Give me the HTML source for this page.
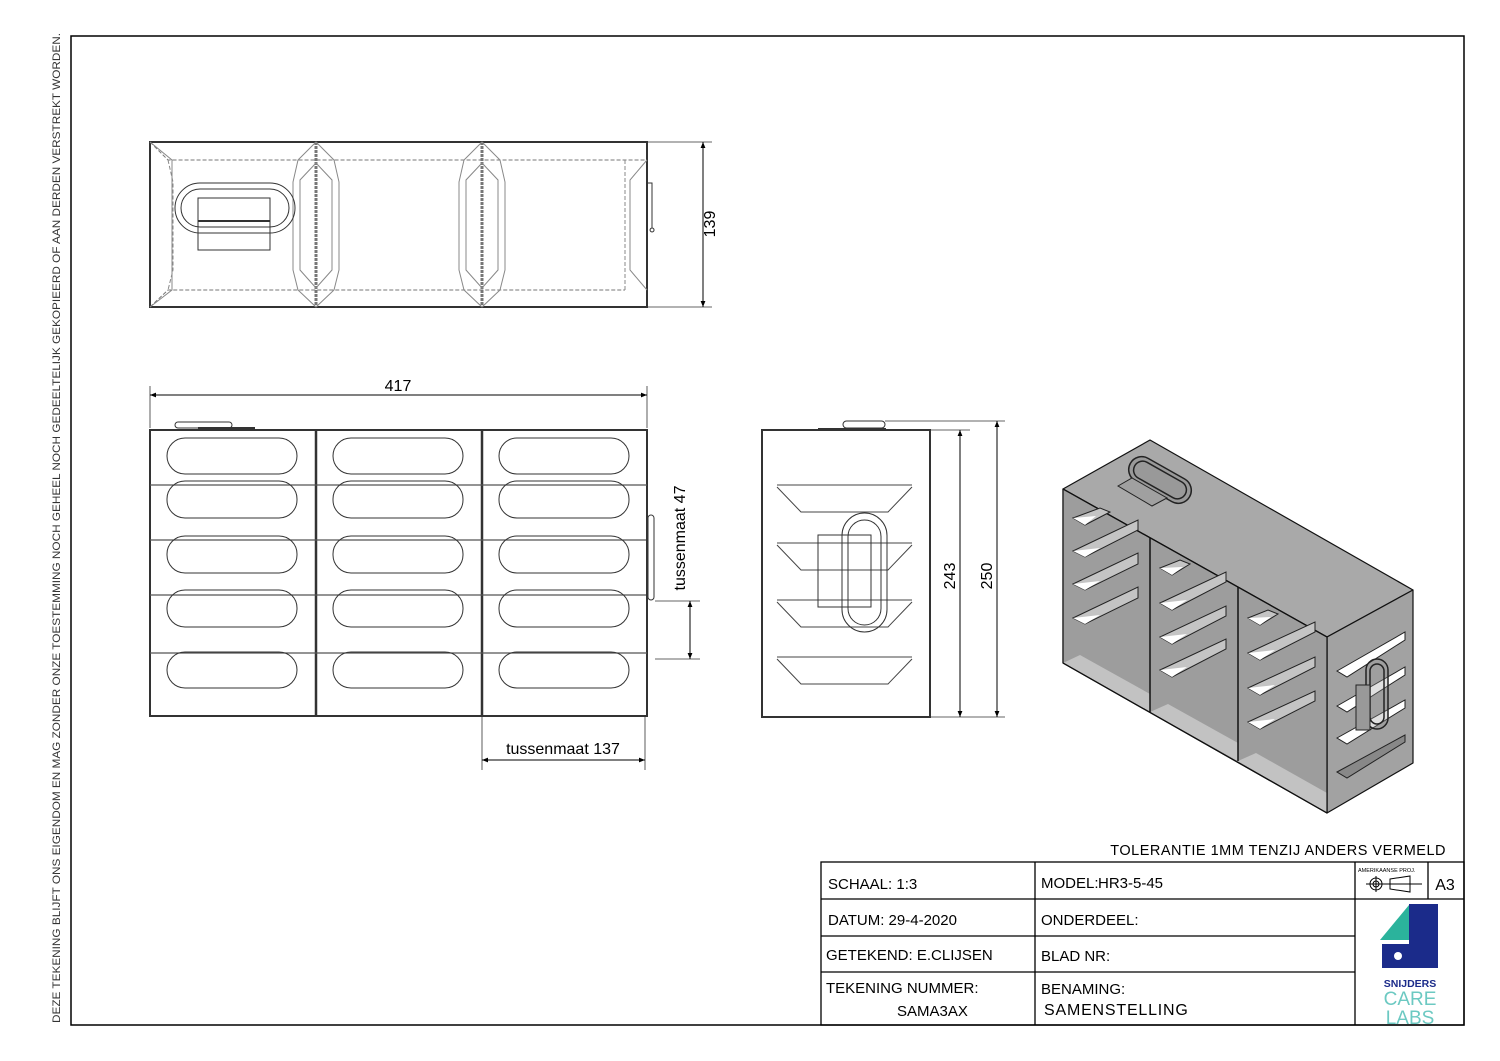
<!DOCTYPE html>
<html><head><meta charset="utf-8"><style>
html,body{margin:0;padding:0;background:#fff;}
svg{display:block;font-family:"Liberation Sans",sans-serif;}
</style></head><body>
<svg width="1500" height="1061" viewBox="0 0 1500 1061" xmlns="http://www.w3.org/2000/svg">
<defs>
<marker id="ar" viewBox="0 0 10 10" refX="10" refY="5" markerWidth="10" markerHeight="6" orient="auto-start-reverse" markerUnits="userSpaceOnUse"><path d="M0,1 L10,5 L0,9 z" fill="#000"/></marker>
</defs>
<rect x="0" y="0" width="1500" height="1061" fill="#fff"/>
<rect x="71" y="36" width="1393" height="989" fill="none" stroke="#000" stroke-width="1.5"/>
<text transform="translate(60,528) rotate(-90)" text-anchor="middle" font-size="11" fill="#333" textLength="990" lengthAdjust="spacingAndGlyphs">DEZE TEKENING BLIJFT ONS EIGENDOM EN MAG ZONDER ONZE TOESTEMMING NOCH GEHEEL NOCH GEDEELTELIJK GEKOPIEERD OF AAN DERDEN VERSTREKT WORDEN.</text>

<!-- TOP VIEW -->
<g stroke="#333" fill="none" stroke-width="1">
<rect x="150" y="142" width="497" height="165" stroke-width="2"/>
<line x1="316" y1="142" x2="316" y2="307" stroke="#777" stroke-width="3" stroke-dasharray="3,1"/>
<line x1="482" y1="142" x2="482" y2="307" stroke="#777" stroke-width="3" stroke-dasharray="3,1"/>
<path d="M150,142 L168,160 L647,160 M150,307 L168,290 L625,290" stroke-dasharray="4,2" stroke="#777"/>
<path d="M150,142 L172,160 L172,290 L150,307" stroke="#888"/>
<path d="M168,160 L173,182 L173,270 L168,290" stroke="#888" stroke-dasharray="4,2"/>
<path d="M316,142 L298,160 L293,182 L293,270 L298,290 L316,307 L334,290 L339,270 L339,182 L334,160 Z" stroke="#888"/>
<path d="M316,163 L300,180 L300,270 L316,288 L332,270 L332,180 Z" stroke="#888"/>
<path d="M482,142 L464,160 L459,182 L459,270 L464,290 L482,307 L500,290 L505,270 L505,182 L500,160 Z" stroke="#888"/>
<path d="M482,163 L466,180 L466,270 L482,288 L498,270 L498,180 Z" stroke="#888"/>
<path d="M647,160 L630,180 L630,270 L647,290" stroke="#888"/>
<path d="M625,160 L625,290" stroke="#888" stroke-dasharray="4,2"/>
<rect x="175" y="183" width="120" height="50" rx="25"/>
<rect x="181" y="189" width="108" height="38" rx="19"/>
<rect x="198" y="198" width="72" height="52" fill="none"/>
<line x1="198" y1="221" x2="270" y2="221" stroke-width="2"/>
<path d="M647,183 L652,183 L652,228 M652,228 a2,2 0 1 0 0.1,0"/>
<line x1="647" y1="142" x2="712" y2="142" stroke-width="0.8"/>
<line x1="647" y1="307" x2="712" y2="307" stroke-width="0.8"/>
<line x1="703" y1="142" x2="703" y2="307" marker-start="url(#ar)" marker-end="url(#ar)" stroke="#000"/>
</g>
<text transform="translate(715,224) rotate(-90)" text-anchor="middle" font-size="16">139</text>

<!-- FRONT VIEW -->
<g stroke="#333" fill="none" stroke-width="1">
<rect x="150" y="430" width="497" height="286" stroke-width="2"/>
<line x1="316" y1="430" x2="316" y2="716" stroke-width="2.5"/>
<line x1="482" y1="430" x2="482" y2="716" stroke-width="2.5"/>
<g stroke="#555" stroke-width="1.2">
<line x1="150" y1="485" x2="647" y2="485"/>
<line x1="150" y1="540" x2="647" y2="540"/>
<line x1="150" y1="595" x2="647" y2="595"/>
<line x1="150" y1="653" x2="647" y2="653"/>
</g>
<g>
<rect x="167" y="438" width="130" height="36" rx="18"/><rect x="333" y="438" width="130" height="36" rx="18"/><rect x="499" y="438" width="130" height="36" rx="18"/>
<rect x="167" y="481" width="130" height="37" rx="18"/><rect x="333" y="481" width="130" height="37" rx="18"/><rect x="499" y="481" width="130" height="37" rx="18"/>
<rect x="167" y="536" width="130" height="37" rx="18"/><rect x="333" y="536" width="130" height="37" rx="18"/><rect x="499" y="536" width="130" height="37" rx="18"/>
<rect x="167" y="590" width="130" height="37" rx="18"/><rect x="333" y="590" width="130" height="37" rx="18"/><rect x="499" y="590" width="130" height="37" rx="18"/>
<rect x="167" y="652" width="130" height="36" rx="18"/><rect x="333" y="652" width="130" height="36" rx="18"/><rect x="499" y="652" width="130" height="36" rx="18"/>
</g>
<rect x="175" y="422" width="57" height="6" rx="3"/>
<line x1="198" y1="428" x2="255" y2="428" stroke-width="2"/>
<rect x="648" y="515" width="6" height="85" rx="3"/>
<line x1="647" y1="535" x2="647" y2="605" stroke-width="2"/>
<line x1="150" y1="386" x2="150" y2="428" stroke-width="0.8"/>
<line x1="647" y1="386" x2="647" y2="428" stroke-width="0.8"/>
<line x1="150" y1="395" x2="647" y2="395" marker-start="url(#ar)" marker-end="url(#ar)" stroke="#000"/>
<line x1="655" y1="601" x2="700" y2="601" stroke-width="0.8"/>
<line x1="655" y1="659" x2="700" y2="659" stroke-width="0.8"/>
<line x1="690" y1="601" x2="690" y2="659" marker-start="url(#ar)" marker-end="url(#ar)" stroke="#000"/>
<line x1="482" y1="716" x2="482" y2="770" stroke-width="0.8"/>
<line x1="645" y1="716" x2="645" y2="770" stroke-width="0.8"/>
<line x1="482" y1="760" x2="645" y2="760" marker-start="url(#ar)" marker-end="url(#ar)" stroke="#000"/>
</g>
<text x="398" y="391" text-anchor="middle" font-size="16">417</text>
<text transform="translate(685,538) rotate(-90)" text-anchor="middle" font-size="16">tussenmaat 47</text>
<text x="563" y="754" text-anchor="middle" font-size="16">tussenmaat 137</text>

<!-- SIDE VIEW -->
<g stroke="#333" fill="none" stroke-width="1">
<rect x="762" y="430" width="168" height="287" stroke-width="2"/>
<line x1="818" y1="429" x2="886" y2="429" stroke-width="2"/>
<rect x="843" y="421" width="42" height="7" rx="3.5"/>
<g stroke="#444">
<path d="M777,485 L912,485 M777,487 L801,512 L888,512 L912,487"/>
<path d="M777,543 L912,543 M777,545 L801,570 L888,570 L912,545"/>
<path d="M777,600 L912,600 M777,602 L801,627 L888,627 L912,602"/>
<path d="M777,657 L912,657 M777,659 L801,684 L888,684 L912,659"/>
</g>
<rect x="842" y="513" width="45" height="119" rx="22.5"/>
<rect x="848" y="520" width="33" height="105" rx="16.5"/>
<rect x="818" y="535" width="53" height="72"/>
<line x1="930" y1="430" x2="970" y2="430" stroke-width="0.8"/>
<line x1="930" y1="717" x2="1005" y2="717" stroke-width="0.8"/>
<line x1="885" y1="421" x2="1005" y2="421" stroke-width="0.8"/>
<line x1="960" y1="430" x2="960" y2="717" marker-start="url(#ar)" marker-end="url(#ar)" stroke="#000"/>
<line x1="997" y1="421" x2="997" y2="717" marker-start="url(#ar)" marker-end="url(#ar)" stroke="#000"/>
</g>
<text transform="translate(955,576) rotate(-90)" text-anchor="middle" font-size="16">243</text>
<text transform="translate(992,576) rotate(-90)" text-anchor="middle" font-size="16">250</text>

<!-- ISOMETRIC -->
<g stroke="#111" stroke-width="1.2" stroke-linejoin="round">
<polygon points="1063,489 1150,440 1413,590 1327,637" fill="#a9a9a9"/>
<polygon points="1327,637 1413,590 1413,763 1327,813" fill="#a2a2a2"/>
<polygon points="1063,489 1327,637 1327,813 1063,663" fill="#b3b3b3"/>
<polygon points="1063,489 1150,538 1150,712 1063,663" fill="#9d9d9d" stroke="none"/>
<polygon points="1063,663 1080,655 1150,694 1150,712" fill="#c2c2c2" stroke="none"/>
<polygon points="1150,538 1238,587 1238,761 1150,712" fill="#9d9d9d" stroke="none"/>
<polygon points="1150,712 1168,704 1238,743 1238,761" fill="#c2c2c2" stroke="none"/>
<polygon points="1238,587 1327,637 1327,813 1238,761" fill="#9d9d9d" stroke="none"/>
<polygon points="1238,761 1256,753 1327,793 1327,813" fill="#c2c2c2" stroke="none"/>
<line x1="1063" y1="489" x2="1327" y2="637"/>
<line x1="1150" y1="538" x2="1150" y2="712" stroke-width="1.5"/>
<line x1="1238" y1="587" x2="1238" y2="761" stroke-width="1.5"/>
<line x1="1063" y1="663" x2="1327" y2="813"/>
<polygon points="1063,489 1327,637 1327,813 1063,663" fill="none"/>
</g>
<!-- shelves -->
<g stroke="#222" stroke-width="1">
<g id="sh">
</g>
<polygon points="1073,518 1100,508 1110,512 1085,525" fill="#c4c4c4"/><polygon points="1073,518 1096,516 1085,525" fill="#fff" stroke="none"/>
<polygon points="1073,551 1138,520 1138,530 1085,557" fill="#c4c4c4"/><polygon points="1073,551 1100,548 1085,557" fill="#fff" stroke="none"/>
<polygon points="1073,584 1138,553 1138,564 1085,590" fill="#c4c4c4"/><polygon points="1073,584 1100,581 1085,590" fill="#fff" stroke="none"/>
<polygon points="1073,618 1138,587 1138,598 1085,624" fill="#c4c4c4"/><polygon points="1073,618 1100,615 1085,624" fill="#fff" stroke="none"/>
<polygon points="1160,568 1180,560 1190,564 1172,575" fill="#c4c4c4"/><polygon points="1160,568 1183,567 1172,575" fill="#fff" stroke="none"/>
<polygon points="1160,603 1226,572 1226,582 1172,610" fill="#c4c4c4"/><polygon points="1160,603 1187,600 1172,610" fill="#fff" stroke="none"/>
<polygon points="1160,637 1226,606 1226,616 1172,644" fill="#c4c4c4"/><polygon points="1160,637 1187,634 1172,644" fill="#fff" stroke="none"/>
<polygon points="1160,670 1226,639 1226,649 1172,677" fill="#c4c4c4"/><polygon points="1160,670 1187,667 1172,677" fill="#fff" stroke="none"/>
<polygon points="1248,618 1268,610 1278,614 1260,625" fill="#c4c4c4"/><polygon points="1248,618 1271,617 1260,625" fill="#fff" stroke="none"/>
<polygon points="1248,653 1315,622 1315,632 1260,660" fill="#c4c4c4"/><polygon points="1248,653 1275,650 1260,660" fill="#fff" stroke="none"/>
<polygon points="1248,688 1315,657 1315,667 1260,695" fill="#c4c4c4"/><polygon points="1248,688 1275,685 1260,695" fill="#fff" stroke="none"/>
<polygon points="1248,722 1315,691 1315,701 1260,729" fill="#c4c4c4"/><polygon points="1248,722 1275,719 1260,729" fill="#fff" stroke="none"/>
<polygon points="1337,671 1405,632 1405,640 1347,677" fill="#fff"/>
<polygon points="1337,706 1405,667 1405,675 1347,712" fill="#fff"/>
<polygon points="1337,738 1405,700 1405,708 1347,744" fill="#fff"/>
<polygon points="1337,772 1405,735 1405,742 1347,778" fill="#888"/>
</g>
<g stroke="#222" fill="none" stroke-width="1.5">
<rect x="1366" y="659" width="22" height="70" rx="11" fill="#999" fill-opacity="0.3"/>
<rect x="1370" y="664" width="14" height="60" rx="7"/>
<rect x="1356" y="685" width="14" height="45" fill="#999" stroke-width="1"/>
<g transform="translate(1160,480) rotate(29.5)">
<rect x="-34" y="-13" width="68" height="26" rx="13" fill="#999"/>
<rect x="-29" y="-9" width="58" height="18" rx="9"/>
</g>
<polygon points="1118,486 1132,478 1167,498 1152,506" fill="#a0a0a0" stroke-width="1"/>
</g>

<!-- TITLE BLOCK -->
<text x="1446" y="855" text-anchor="end" font-size="14.5" letter-spacing="0.5">TOLERANTIE 1MM TENZIJ ANDERS VERMELD</text>
<g stroke="#000" fill="none" stroke-width="1.3">
<rect x="821" y="862" width="643" height="163"/>
<line x1="1035" y1="862" x2="1035" y2="1025"/>
<line x1="1355" y1="862" x2="1355" y2="1025"/>
<line x1="1428" y1="862" x2="1428" y2="899"/>
<line x1="821" y1="899" x2="1464" y2="899"/>
<line x1="821" y1="936" x2="1355" y2="936"/>
<line x1="821" y1="972" x2="1355" y2="972"/>
</g>
<g font-size="15">
<text x="828" y="889">SCHAAL:  1:3</text>
<text x="828" y="925">DATUM:  29-4-2020</text>
<text x="826" y="960">GETEKEND:  E.CLIJSEN</text>
<text x="826" y="993">TEKENING NUMMER:</text>
<text x="897" y="1016">SAMA3AX</text>
<text x="1041" y="888">MODEL:</text><text x="1098" y="888">HR3-5-45</text>
<text x="1041" y="925">ONDERDEEL:</text>
<text x="1041" y="961">BLAD NR:</text>
<text x="1041" y="994">BENAMING:</text>
<text x="1044" y="1015" font-size="16" letter-spacing="0.8">SAMENSTELLING</text>
<text x="1445" y="890" text-anchor="middle" font-size="16">A3</text>
</g>
<text x="1358" y="872" font-size="5.5">AMERIKAANSE PROJ.</text>
<g stroke="#000" fill="none" stroke-width="1">
<circle cx="1376" cy="884" r="6"/><circle cx="1376" cy="884" r="3"/>
<line x1="1366" y1="884" x2="1422" y2="884"/><line x1="1376" y1="876" x2="1376" y2="892"/>
<polygon points="1390,879 1410,876 1410,892 1390,889"/>
</g>
<polygon points="1409,904 1438,904 1438,913 1409,913" fill="#1b2b8a"/>
<polygon points="1380,940 1409,905 1409,940" fill="#2bb39c"/>
<path d="M1409,913 L1438,913 L1438,968 L1382,968 L1382,944 L1409,944 Z" fill="#1b2b8a"/>
<circle cx="1398" cy="956" r="4" fill="#fff"/>
<text x="1410" y="987" text-anchor="middle" font-size="10.5" font-weight="bold" fill="#1b2b8a">SNIJDERS</text>
<text x="1410" y="1005" text-anchor="middle" font-size="19" fill="#6cc9c2">CARE</text>
<text x="1410" y="1024" text-anchor="middle" font-size="19" fill="#6cc9c2">LABS</text>
</svg>
</body></html>
